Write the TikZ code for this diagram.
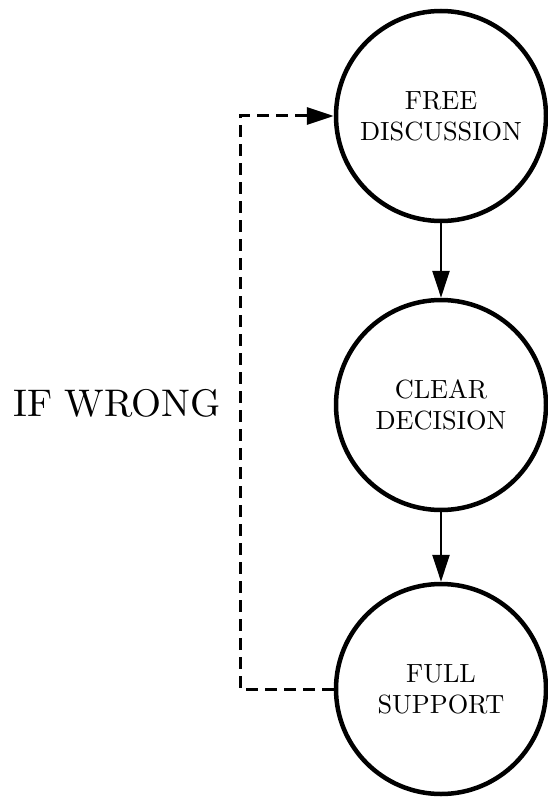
\documentclass[tikz,border=0pt]{standalone}
\usepackage{fontspec}
\setmainfont{lmroman10-regular.otf}
\usetikzlibrary{arrows.meta}
\begin{document}
\begin{tikzpicture}[x=1pt,y=-1pt]
    \tikzstyle{stage}=[circle, draw, line width=4.5pt, minimum size=210pt, inner sep=0pt, align=center, font=\fontsize{26.3}{31}\selectfont]
    \tikzstyle{flow}=[line width=2.5pt, -{Triangle[length=27pt,width=17pt]}]
    \useasboundingbox (0,0) rectangle (548,797);
    \node[stage] (free) at (441,116) {FREE\\DISCUSSION};
    \node[stage] (clear) at (441,405) {CLEAR\\DECISION};
    \node[stage] (full) at (441,689) {FULL\\SUPPORT};
    \draw[flow] (free) -- (clear);
    \draw[flow] (clear) -- (full);
    % the way back
    \coordinate (loop) at (240,405);
    \draw[flow, line width=3pt, dash pattern=on 12pt off 7pt] (full.west) -| (loop) |- (free.west);
    \node[font=\fontsize{38.5}{46}\selectfont] (wrong) at (117,403) {IF WRONG};
\end{tikzpicture}
\end{document}
